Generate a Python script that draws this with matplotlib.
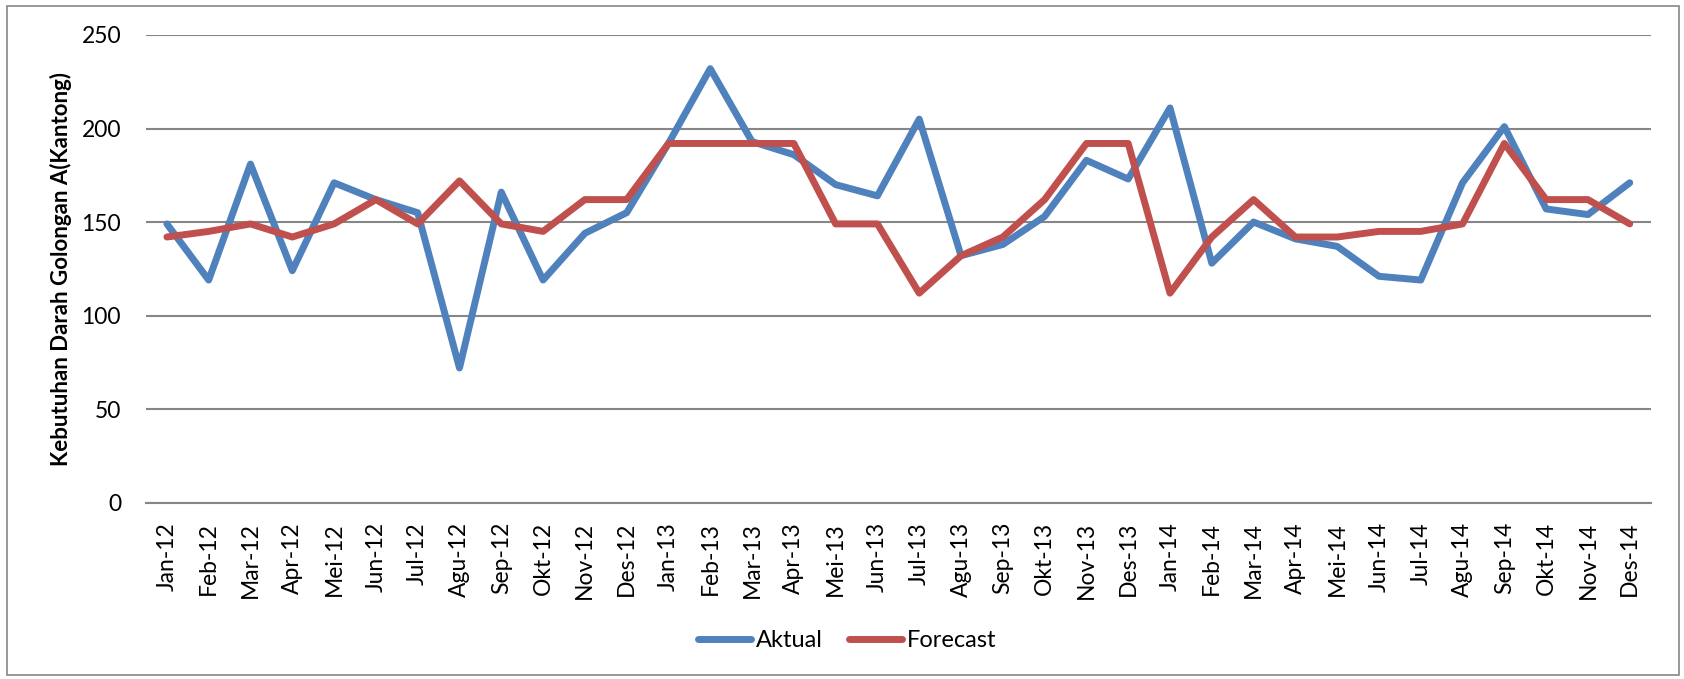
import matplotlib.pyplot as plt
from matplotlib.patches import Rectangle

plt.rcParams['font.family'] = ['Lato', 'DejaVu Sans']

# data
bulan = ['Jan-12', 'Feb-12', 'Mar-12', 'Apr-12', 'Mei-12', 'Jun-12', 'Jul-12', 'Agu-12',
         'Sep-12', 'Okt-12', 'Nov-12', 'Des-12',
         'Jan-13', 'Feb-13', 'Mar-13', 'Apr-13', 'Mei-13', 'Jun-13', 'Jul-13', 'Agu-13',
         'Sep-13', 'Okt-13', 'Nov-13', 'Des-13',
         'Jan-14', 'Feb-14', 'Mar-14', 'Apr-14', 'Mei-14', 'Jun-14', 'Jul-14', 'Agu-14',
         'Sep-14', 'Okt-14', 'Nov-14', 'Des-14']
aktual = [149, 119, 181, 124, 171, 162, 155, 72, 166, 119, 144, 155,
          192, 232, 193, 186, 170, 164, 205, 132, 138, 153, 183, 173,
          211, 128, 150, 141, 137, 121, 119, 171, 201, 157, 154, 171]
forecast = [142, 145, 149, 142, 149, 162, 149, 172, 149, 145, 162, 162,
            192, 192, 192, 192, 149, 149, 112, 132, 142, 162, 192, 192,
            112, 142, 162, 142, 142, 145, 145, 149, 192, 162, 162, 149]
y_ticks = [0, 50, 100, 150, 200, 250]

fig = plt.figure(figsize=(16.84, 6.79), dpi=100)
ax = fig.add_axes([0.0867, 0.2597, 0.8935, 0.6888])

x = list(range(len(bulan)))
ax.plot(x, aktual, color='#4F81BD', lw=5, solid_capstyle='round', solid_joinstyle='round', label='Aktual')
ax.plot(x, forecast, color='#C0504D', lw=5, solid_capstyle='round', solid_joinstyle='round', label='Forecast')

ax.set_xlim(-0.5, len(bulan) - 0.5)
ax.set_ylim(0, 250)
ax.set_yticks(y_ticks)
ax.set_xticks(x)
ax.set_xticklabels(bulan, rotation=90)
ax.tick_params(axis='both', length=0, labelsize=16.5, colors='black')
ax.tick_params(axis='x', pad=14)
ax.tick_params(axis='y', pad=18)
ax.grid(axis='y', color='#868686', lw=1.5)
ax.set_axisbelow(True)
for s in ['top', 'right', 'left']:
    ax.spines[s].set_visible(False)
ax.spines['bottom'].set_color('#868686')
ax.spines['bottom'].set_linewidth(1.5)

ax.set_ylabel('Kebutuhan Darah Golongan A(Kantong)', fontsize=16, fontweight='bold', va='center')
ax.yaxis.set_label_coords(-0.0568, 0.5)

fig.legend(loc='center', bbox_to_anchor=(0.503, 0.056), ncol=2, frameon=False, fontsize=17,
           handlelength=2.25, handletextpad=0.2, columnspacing=1.1)

# outer chart frame
fig.patches.append(Rectangle((0.0042, 0.0059), 0.9929, 0.985, transform=fig.transFigure,
                             fill=False, edgecolor='#868686', lw=1.2))

fig.savefig('out.png', dpi=100)
